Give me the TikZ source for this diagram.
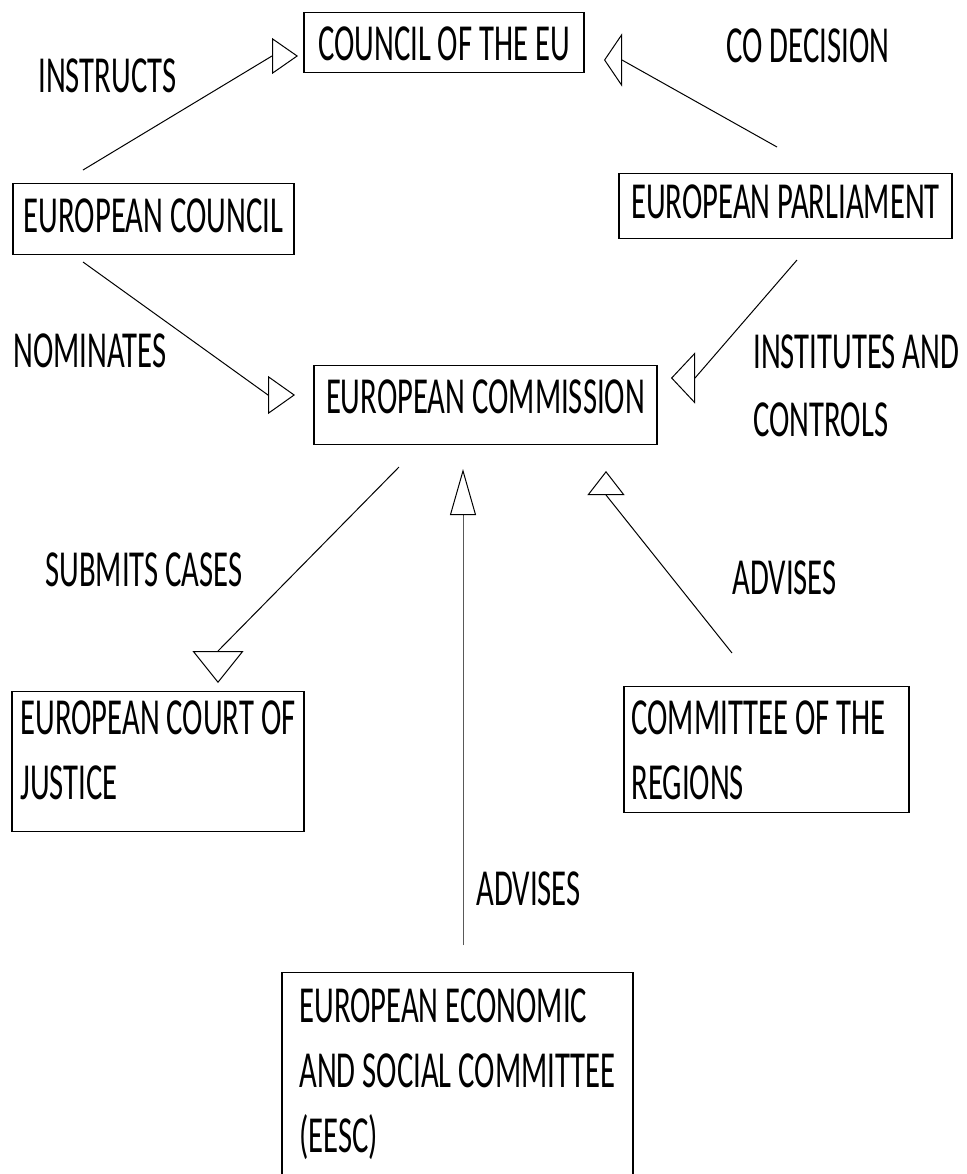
\documentclass[tikz,border=0pt]{standalone}
\usepackage{fontspec}
\setmainfont{Carlito}[FakeStretch=0.59]
\usetikzlibrary{arrows.meta}
\newcommand{\diagfont}{\fontsize{26}{32.5}\selectfont}

\begin{document}
\begin{tikzpicture}[x=0.5pt, y=-0.5pt,
    block/.style={rectangle, draw, line width=0.7pt, inner sep=0pt, anchor=north, align=left, font=\diagfont},
    tag/.style={anchor=base west, inner sep=0pt, align=left, font=\diagfont},
    line/.style 2 args={draw, line width=0.5pt, -{Triangle[open, length=#1, width=#2]}}]

    \path [use as bounding box] (0,0) rectangle (966,1174);

    % institutions
    \node [block, minimum width=140pt, text height=24pt, text depth=6pt] (cteu) at (444,12) {COUNCIL OF THE EU};
    \node [block, minimum width=140.5pt, text height=24.5pt, text depth=11pt] (euco) at (153.5,183) {EUROPEAN COUNCIL};
    \node [block, minimum width=166.5pt, text height=22.5pt, text depth=10pt] (ep) at (785.5,173) {EUROPEAN PARLIAMENT};
    \node [block, minimum width=171.5pt, text height=24pt, text depth=15.5pt] (ec) at (485.5,365) {EUROPEAN COMMISSION};
    \node [block, minimum width=146pt, text height=54pt, text depth=16pt] (ecj) at (158,691) {EUROPEAN COURT OF\\JUSTICE};
    \node [block, minimum width=142.5pt, text height=56.5pt, text depth=6.5pt] (cor) at (766.5,686) {COMMITTEE OF THE\hspace*{8pt}\\REGIONS};
    \node [block, minimum width=175.5pt, text height=90pt, text depth=35pt] (eesc) at (457.5,972) {EUROPEAN ECONOMIC\\AND SOCIAL COMMITTEE\\(EESC)};

    % labels
    \node [tag] (instructs) at (38,92) {INSTRUCTS};
    \node [tag] (codecision) at (726,62) {CO DECISION};
    \node [tag] (nominates) at (13,367) {NOMINATES};
    \node [tag] (institutes) at (753,436) {INSTITUTES AND\\[1.5pt]CONTROLS};
    \node [tag] (submits) at (45,586) {SUBMITS CASES};
    \node [tag] (advcor) at (732,594) {ADVISES};
    \node [tag] (adveesc) at (476,905) {ADVISES};

    % arrow ends
    \coordinate (ins-a) at (83,170);   \coordinate (ins-b) at (272,56);
    \coordinate (cod-a) at (777,147);  \coordinate (cod-b) at (622,60);
    \coordinate (nom-a) at (83,262);   \coordinate (nom-b) at (268,395);
    \coordinate (inst-a) at (797,260); \coordinate (inst-b) at (695,378);
    \coordinate (sub-a) at (399,467);  \coordinate (sub-b) at (218,651);
    \coordinate (adv-a) at (463,945);  \coordinate (adv-b) at (463,515);
    \coordinate (cor-a) at (732,653);  \coordinate (cor-b) at (606,495);

    \path [line={13pt}{18pt}] (ins-a) -- (ins-b) -- ++(26,0);
    \path [line={9pt}{26.5pt}] (cod-a) -- (cod-b) -- ++(-18,0);
    \path [line={13.5pt}{19pt}] (nom-a) -- (nom-b) -- ++(27,0);
    \path [line={12pt}{25.5pt}] (inst-a) -- (inst-b) -- ++(-24,0);
    \path [line={16pt}{25.5pt}] (sub-a) -- (sub-b) -- ++(0,32);
    \path [line={23pt}{13pt}] (adv-a) -- (adv-b) -- ++(0,-46);
    \path [line={12pt}{18.5pt}] (cor-a) -- (cor-b) -- ++(0,-24);
\end{tikzpicture}
\end{document}
